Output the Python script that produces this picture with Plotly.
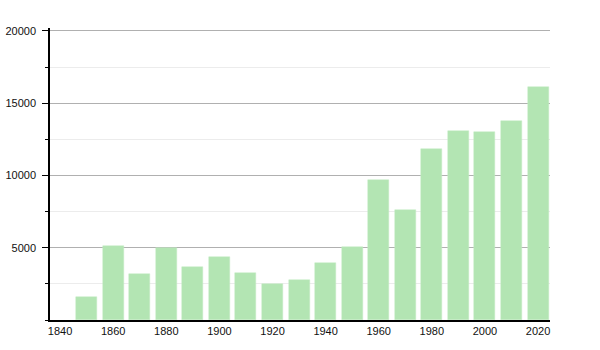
import plotly.graph_objects as go

years = [1850, 1860, 1870, 1880, 1890, 1900, 1910, 1920, 1930, 1940,
         1950, 1960, 1970, 1980, 1990, 2000, 2010, 2020]
population = [1620, 5140, 3210, 4980, 3690, 4380, 3280, 2520, 2800, 3970,
              5070, 9690, 7630, 11810, 13060, 13010, 13750, 16140]
x_ticks = [1840, 1860, 1880, 1900, 1920, 1940, 1960, 1980, 2000, 2020]
y_ticks = [5000, 10000, 15000, 20000]

fig = go.Figure(go.Bar(
    x=years, y=population, width=7.9,
    marker=dict(color="#b3e5b3", line=dict(color="#c4ecc4", width=0.5)),
))

fig.update_layout(
    width=600, height=350,
    margin=dict(l=50, r=50, t=28, b=30),
    paper_bgcolor="white", plot_bgcolor="white",
    showlegend=False,
    bargap=0,
    font=dict(family="Liberation Sans, Arial, sans-serif", size=11, color="#111"),
    xaxis=dict(
        range=[1836.2, 2024.5], tickvals=x_ticks, ticktext=[str(v) for v in x_ticks],
        showgrid=False, showline=True, linecolor="black", linewidth=1.5,
        ticks="", zeroline=False, fixedrange=True, automargin=False,
    ),
    yaxis=dict(
        range=[0, 20200], tickvals=y_ticks, ticktext=[str(v) for v in y_ticks],
        showgrid=True, gridcolor="#b0b0b0", gridwidth=1,
        showline=True, linecolor="black", linewidth=1.5,
        ticks="outside", ticklen=6, tickcolor="black", tickwidth=1,
        ticklabelstandoff=4, automargin=False,
        zeroline=False, fixedrange=True,
        minor=dict(dtick=2500, tick0=0, showgrid=True, gridcolor="#ececec",
                   ticks="outside", ticklen=3, tickcolor="black"),
    ),
)

fig.write_html("out.html")
